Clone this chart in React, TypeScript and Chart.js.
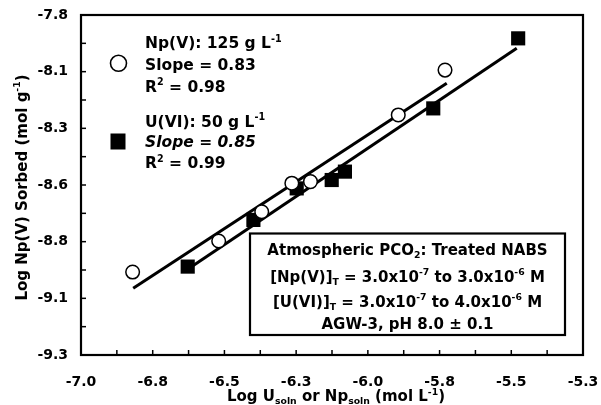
import React, { useEffect, useRef } from 'react';
import { Chart, registerables } from 'chart.js';

Chart.register(...registerables);

// ---- data ----
const npX = [-6.82, -6.52, -6.37, -6.265, -6.2, -5.894, -5.731];
const npY = [-8.934, -8.797, -8.668, -8.542, -8.535, -8.241, -8.043];
const uX = [-6.628, -6.399, -6.248, -6.126, -6.08, -5.772, -5.476];
const uY = [-8.91, -8.704, -8.565, -8.528, -8.491, -8.212, -7.903];
const npFitX = [-6.818, -5.725];
const npFitY = [-9.006, -8.101];
const uFitX = [-6.628, -5.481];
const uFitY = [-8.922, -7.947];

const xTickValues = [-7.0, -6.75, -6.5, -6.25, -6.0, -5.75, -5.5, -5.25];
const xTickLabels = ['-7.0', '-6.8', '-6.5', '-6.3', '-6.0', '-5.8', '-5.5', '-5.3'];
const yTickValues = [-9.3, -9.05, -8.8, -8.55, -8.3, -8.05, -7.8];
const yTickLabels = ['-9.3', '-9.1', '-8.8', '-8.6', '-8.3', '-8.1', '-7.8'];
const minorStep = 0.125;

type Seg = { t: string; sub?: boolean; sup?: boolean; it?: boolean };

const npLegend: Seg[][] = [
  [{ t: 'Np(V): 125 g L' }, { t: '-1', sup: true }],
  [{ t: 'Slope = 0.83' }],
  [{ t: 'R' }, { t: '2', sup: true }, { t: ' = 0.98' }],
];
const uLegend: Seg[][] = [
  [{ t: 'U(VI): 50 g L' }, { t: '-1', sup: true }],
  [{ t: 'Slope = 0.85', it: true }],
  [{ t: 'R' }, { t: '2', sup: true }, { t: ' = 0.99' }],
];
const noteLines: Seg[][] = [
  [{ t: 'Atmospheric PCO' }, { t: '2', sub: true }, { t: ': Treated NABS' }],
  [{ t: '[Np(V)]' }, { t: 'T', sub: true }, { t: ' = 3.0x10' }, { t: '-7', sup: true }, { t: ' to 3.0x10' }, { t: '-6', sup: true }, { t: ' M' }],
  [{ t: '[U(VI)]' }, { t: 'T', sub: true }, { t: ' = 3.0x10' }, { t: '-7', sup: true }, { t: ' to 4.0x10' }, { t: '-6', sup: true }, { t: ' M' }],
  [{ t: 'AGW-3, pH 8.0 \u00b1 0.1' }],
];
const xTitle: Seg[] = [
  { t: 'Log U' }, { t: 'soln', sub: true }, { t: ' or Np' }, { t: 'soln', sub: true }, { t: ' (mol L' }, { t: '-1', sup: true }, { t: ')' },
];
const yTitle: Seg[] = [{ t: 'Log Np(V) Sorbed (mol g' }, { t: '-1', sup: true }, { t: ')' }];

const FAMILY = '"DejaVu Sans", Verdana, sans-serif';

function segFont(s: Seg, size: number) {
  const sz = s.sub || s.sup ? size * 0.62 : size;
  return `${s.it ? 'italic ' : ''}bold ${sz}px ${FAMILY}`;
}
function richWidth(ctx: CanvasRenderingContext2D, segs: Seg[], size: number) {
  let w = 0;
  for (const s of segs) {
    ctx.font = segFont(s, size);
    w += ctx.measureText(s.t).width;
  }
  return w;
}
function drawRich(ctx: CanvasRenderingContext2D, segs: Seg[], x: number, y: number, size: number, align: 'left' | 'center') {
  let cx = align === 'center' ? x - richWidth(ctx, segs, size) / 2 : x;
  ctx.textAlign = 'left';
  ctx.textBaseline = 'alphabetic';
  ctx.fillStyle = '#000';
  for (const s of segs) {
    ctx.font = segFont(s, size);
    const dy = s.sub ? size * 0.22 : s.sup ? -size * 0.42 : 0;
    ctx.fillText(s.t, cx, y + dy);
    cx += ctx.measureText(s.t).width;
  }
}

const decorPlugin = {
  id: 'decor',
  afterDraw(chart: any) {
    const { ctx, chartArea: a, scales } = chart;
    const xs = scales.x;
    const ys = scales.y;
    ctx.save();
    // inward ticks
    ctx.strokeStyle = '#000';
    ctx.lineWidth = 1.5;
    const nx = Math.round((xs.max - xs.min) / minorStep);
    for (let i = 1; i < nx; i++) {
      const px = xs.getPixelForValue(xs.min + i * minorStep);
      ctx.beginPath();
      ctx.moveTo(px, a.bottom);
      ctx.lineTo(px, a.bottom - 5);
      ctx.stroke();
    }
    const ny = Math.round((ys.max - ys.min) / minorStep);
    for (let i = 1; i < ny; i++) {
      const py = ys.getPixelForValue(ys.min + i * minorStep);
      ctx.beginPath();
      ctx.moveTo(a.left, py);
      ctx.lineTo(a.left + 5, py);
      ctx.stroke();
    }
    // frame
    ctx.lineWidth = 2.2;
    ctx.strokeRect(a.left, a.top, a.right - a.left, a.bottom - a.top);

    // legend markers
    ctx.lineWidth = 1.6;
    ctx.fillStyle = '#fff';
    ctx.beginPath();
    ctx.arc(118.5, 63.3, 8, 0, Math.PI * 2);
    ctx.fill();
    ctx.stroke();
    ctx.fillStyle = '#000';
    ctx.fillRect(110.5, 133.5, 15, 16);

    // legend text
    const lx = 145;
    const lb = [48.3, 69.5, 91.7, 126.7, 147, 168.3];
    npLegend.forEach((l, i) => drawRich(ctx, l, lx, lb[i], 15.5, 'left'));
    uLegend.forEach((l, i) => drawRich(ctx, l, lx, lb[i + 3], 15.5, 'left'));

    // annotation box
    const bx = 250, by = 233.5, bw = 315, bh = 101.5;
    ctx.fillStyle = '#fff';
    ctx.fillRect(bx, by, bw, bh);
    ctx.lineWidth = 2.2;
    ctx.strokeStyle = '#000';
    ctx.strokeRect(bx, by, bw, bh);
    const nb = [255, 281.5, 306.5, 328.5];
    noteLines.forEach((l, i) => drawRich(ctx, l, bx + bw / 2, nb[i], 15, 'center'));

    // axis titles
    drawRich(ctx, xTitle, 336, 401, 15, 'center');
    ctx.save();
    ctx.translate(26.5, 187.5);
    ctx.rotate(-Math.PI / 2);
    drawRich(ctx, yTitle, 0, 0, 15, 'center');
    ctx.restore();
    ctx.restore();
  },
};

function labelFor(values: number[], labels: string[], v: number) {
  let best = 0;
  for (let i = 0; i < values.length; i++) {
    if (Math.abs(values[i] - v) < Math.abs(values[best] - v)) best = i;
  }
  return labels[best];
}

export default function App() {
  const ref = useRef<HTMLCanvasElement | null>(null);
  useEffect(() => {
    if (!ref.current) return;
    const tickFont = { family: FAMILY, size: 14, weight: 'bold' as const };
    const chart = new Chart(ref.current, {
      type: 'scatter',
      data: {
        datasets: [
          {
            label: 'Np(V)',
            data: npX.map((x, i) => ({ x, y: npY[i] })),
            pointStyle: 'circle',
            pointRadius: 6.8,
            backgroundColor: '#fff',
            borderColor: '#000',
            borderWidth: 1.5,
            order: 0,
          },
          {
            label: 'U(VI)',
            data: uX.map((x, i) => ({ x, y: uY[i] })),
            pointStyle: 'rect',
            pointRadius: 10,
            backgroundColor: '#000',
            borderColor: '#000',
            borderWidth: 0,
            order: 0,
          },
          {
            label: 'Np fit',
            data: npFitX.map((x, i) => ({ x, y: npFitY[i] })),
            showLine: true,
            pointRadius: 0,
            borderColor: '#000',
            borderWidth: 3,
            order: 1,
          },
          {
            label: 'U fit',
            data: uFitX.map((x, i) => ({ x, y: uFitY[i] })),
            showLine: true,
            pointRadius: 0,
            borderColor: '#000',
            borderWidth: 3,
            order: 1,
          },
        ],
      },
      options: {
        responsive: false,
        animation: false,
        events: [],
        layout: { padding: { top: 15, right: 18, left: 0, bottom: 0 } },
        plugins: { legend: { display: false }, tooltip: { enabled: false } },
        scales: {
          x: {
            type: 'linear',
            min: -7,
            max: -5.25,
            afterBuildTicks: (s: any) => {
              s.ticks = xTickValues.map((v) => ({ value: v }));
            },
            afterFit: (s: any) => {
              s.height = 50;
              s.paddingLeft = 0;
              s.paddingRight = 0;
            },
            ticks: {
              autoSkip: false,
              maxRotation: 0,
              padding: 19,
              color: '#000',
              font: tickFont,
              callback: (v: any) => labelFor(xTickValues, xTickLabels, Number(v)),
            },
            grid: { display: false, drawTicks: false },
            border: { display: false },
          },
          y: {
            type: 'linear',
            min: -9.3,
            max: -7.8,
            afterBuildTicks: (s: any) => {
              s.ticks = yTickValues.map((v) => ({ value: v }));
            },
            afterFit: (s: any) => {
              s.width = 81;
              s.paddingTop = 0;
              s.paddingBottom = 0;
            },
            ticks: {
              autoSkip: false,
              padding: 13,
              color: '#000',
              font: tickFont,
              callback: (v: any) => labelFor(yTickValues, yTickLabels, Number(v)),
            },
            grid: { display: false, drawTicks: false },
            border: { display: false },
          },
        },
      },
      plugins: [decorPlugin],
    });
    return () => chart.destroy();
  }, []);
  return (
    <div style={{ position: 'fixed', left: 0, top: 0, width: 601, height: 405, background: '#fff' }}>
      <canvas ref={ref} width={601} height={405} style={{ width: 601, height: 405, display: 'block' }} />
    </div>
  );
}
